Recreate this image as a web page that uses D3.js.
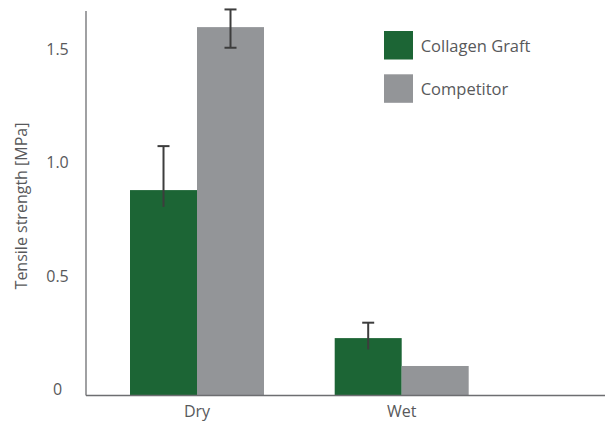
<!DOCTYPE html>
<html><head><meta charset="utf-8">
<script src="https://cdn.jsdelivr.net/npm/d3@7"></script>
<style>body{margin:0;background:#fff}text{font-family:"Open Sans",sans-serif}</style>
</head><body>
<svg id="c" width="605" height="422"></svg>
<script>
const categories = ["Dry", "Wet"];
const seriesNames = ["Collagen Graft", "Competitor"];
const collagenValues = [0.904, 0.251];
const competitorValues = [1.623, 0.128];
const collagenErrLow = [0.83, 0.201];
const collagenErrHigh = [1.098, 0.319];
const competitorErrLow = [1.532, null];
const competitorErrHigh = [1.701, null];
const tickValues = [0, 0.5, 1.0, 1.5];
const tickLabels = ["0", "0.5", "1.0", "1.5"];
const colors = ["#1c6535", "#939598"];

const svg = d3.select("#c");
const y = d3.scaleLinear().domain([0, 1.5]).range([395, 55]);
const x0 = d3.scaleBand().domain(categories).range([86, 512.7]).paddingInner(0.3454).paddingOuter(0.215);
const x1 = d3.scaleBand().domain(seriesNames).range([0, x0.bandwidth()]);

const series = [
  {name: seriesNames[0], vals: collagenValues, lo: collagenErrLow, hi: collagenErrHigh, color: colors[0]},
  {name: seriesNames[1], vals: competitorValues, lo: competitorErrLow, hi: competitorErrHigh, color: colors[1]}
];

// bars
series.forEach(s => {
  svg.append("g").selectAll("rect").data(categories).join("rect")
    .attr("x", c => x0(c) + x1(s.name))
    .attr("width", x1.bandwidth())
    .attr("y", (c, i) => y(s.vals[i]))
    .attr("height", (c, i) => y(0) - y(s.vals[i]))
    .attr("fill", s.color);
});

// error bars
series.forEach(s => {
  const g = svg.append("g").attr("stroke", "#3d3d3d").attr("stroke-width", 2);
  categories.forEach((c, i) => {
    if (s.lo[i] == null) return;
    const cx = x0(c) + x1(s.name) + x1.bandwidth() / 2;
    g.append("line").attr("x1", cx).attr("x2", cx).attr("y1", y(s.lo[i])).attr("y2", y(s.hi[i]));
    g.append("line").attr("x1", cx - 6).attr("x2", cx + 6).attr("y1", y(s.hi[i])).attr("y2", y(s.hi[i]));
    if (s.name === seriesNames[1]) {
      g.append("line").attr("x1", cx - 6).attr("x2", cx + 6).attr("y1", y(s.lo[i])).attr("y2", y(s.lo[i]));
    }
  });
});

// axes lines
svg.append("line").attr("x1", 86).attr("x2", 86).attr("y1", 11).attr("y2", 395.5)
  .attr("stroke", "#6d6e71").attr("stroke-width", 1.3);
svg.append("line").attr("x1", 86).attr("x2", 605).attr("y1", 395.5).attr("y2", 395.5)
  .attr("stroke", "#6d6e71").attr("stroke-width", 1.5);

// y tick labels
svg.append("g").selectAll("text").data(tickValues).join("text")
  .attr("x", 57.5).attr("y", d => y(d) - 6)
  .attr("text-anchor", "middle").attr("dominant-baseline", "central")
  .attr("font-size", 16).attr("fill", "#58595b")
  .text((d, i) => tickLabels[i]);

// x labels
svg.append("g").selectAll("text").data(categories).join("text")
  .attr("x", c => x0(c) + x0.bandwidth() / 2).attr("y", 411)
  .attr("text-anchor", "middle").attr("dominant-baseline", "central")
  .attr("font-size", 16).attr("fill", "#58595b").text(c => c);

// y title
svg.append("text").attr("transform", "translate(20.5,206) rotate(-90)")
  .attr("text-anchor", "middle").attr("dominant-baseline", "central")
  .attr("font-size", 16).attr("fill", "#58595b").text("Tensile strength [MPa]");

// legend
const lg = svg.append("g").selectAll("g").data(series).join("g")
  .attr("transform", (d, i) => `translate(384,${31 + i * 43.3})`);
lg.append("rect").attr("width", 29).attr("height", 28.5).attr("fill", d => d.color);
lg.append("text").attr("x", 36.7).attr("y", 14).attr("dominant-baseline", "central")
  .attr("font-size", 16.5).attr("fill", "#58595b").text(d => d.name);
</script>
</body></html>
